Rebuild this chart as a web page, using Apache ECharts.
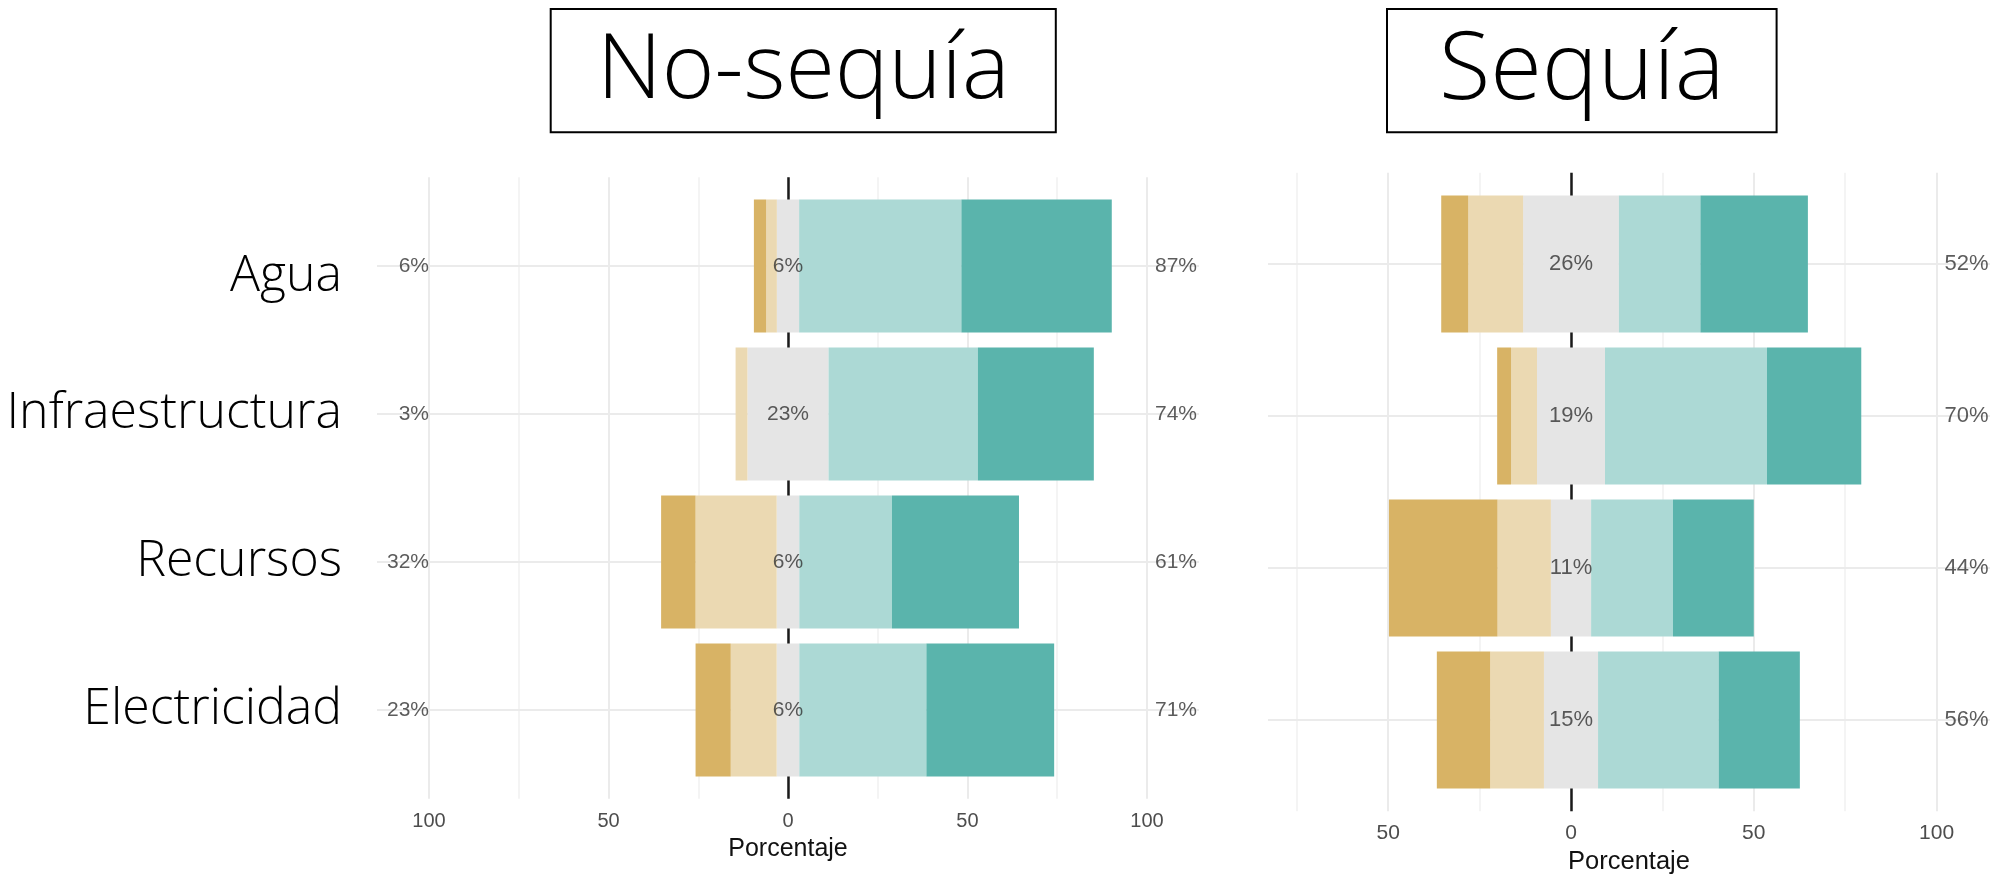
<!DOCTYPE html>
<html>
<head>
<meta charset="utf-8">
<script src="https://cdn.jsdelivr.net/npm/echarts@6/dist/echarts.min.js"></script>
<style>html,body{margin:0;padding:0;background:#fff}#c{width:1995px;height:876px}</style>
</head>
<body>
<div id="c"></div>
<script>
// ---------- DATA ----------
const categories = ['Agua', 'Infraestructura', 'Recursos', 'Electricidad'];

// No-sequía (percent per response level)
const nsMuyDesacuerdo = [3.4, 0.0, 9.6, 9.8];
const nsDesacuerdo    = [3.0, 3.3, 22.6, 12.8];
const nsNeutral       = [6.2, 22.6, 6.3, 6.3];
const nsAcuerdo       = [45.2, 41.6, 25.8, 35.4];
const nsMuyAcuerdo    = [41.9, 32.3, 35.4, 35.6];
const nsLowLabels     = ['6%', '3%', '32%', '23%'];
const nsNeutralLabels = ['6%', '23%', '6%', '6%'];
const nsHighLabels    = ['87%', '74%', '61%', '71%'];

// Sequía
const sMuyDesacuerdo = [7.4, 3.8, 29.7, 14.6];
const sDesacuerdo    = [15.0, 7.1, 14.6, 14.7];
const sNeutral       = [26.2, 18.6, 11.0, 14.8];
const sAcuerdo       = [22.3, 44.3, 22.4, 33.0];
const sMuyAcuerdo    = [29.4, 25.8, 22.1, 22.2];
const sNeutralLabels = ['26%', '19%', '11%', '15%'];
const sHighLabels    = ['52%', '70%', '44%', '56%'];

// axis ticks
const nsGridTicks  = [-100, -75, -50, -25, 0, 25, 50, 75, 100];
const nsTickLabels = [-100, -50, 0, 50, 100];
const sGridTicks   = [-75, -50, -25, 0, 25, 50, 75, 100];
const sTickLabels  = [-50, 0, 50, 100];

const panelTitles = ['No-sequía', 'Sequía'];
const axisTitle = 'Porcentaje';

// ---------- STYLE ----------
const COLORS = ['#D8B365', '#EBD9B2', '#E5E5E5', '#ACD9D5', '#5AB4AC'];
const SANS = 'Liberation Sans, Arial, sans-serif';
const GOTHIC = '"Open Sans", "DejaVu Sans", sans-serif';

function panel(p) {
  const bgGrid = p.gi, fgGrid = p.gi + 1;
  const grids = [
    { left: p.left, width: p.width, top: p.top - p.band * 0.1, height: p.band * 4.2, containLabel: false, outerBoundsMode: 'none' },
    { left: p.left, width: p.width, top: p.top, height: p.band * 4, containLabel: false, outerBoundsMode: 'none' }
  ];
  const xAxes = [
    {
      gridIndex: bgGrid, type: 'value', min: p.min, max: p.max,
      splitLine: { show: false }, axisLine: { show: false }, axisTick: { show: false },
      axisLabel: {
        customValues: p.tickLabels, formatter: v => String(Math.abs(Math.round(v))),
        fontSize: p.tickFont, color: '#4d4d4d', fontFamily: SANS, margin: p.labelMargin
      },
      name: axisTitle, nameLocation: 'middle', nameGap: p.nameGap,
      nameTextStyle: { fontSize: p.nameFont, color: '#111', fontFamily: SANS }
    },
    { gridIndex: fgGrid, type: 'value', min: p.min, max: p.max, show: false }
  ];
  const catStyle = { fontSize: 50, color: '#000', fontFamily: GOTHIC, fontWeight: 300 };
  const yAxes = [
    { gridIndex: bgGrid, type: 'value', min: 0.4, max: 4.6, inverse: true, show: false },
    {
      gridIndex: fgGrid, type: 'category', data: categories, inverse: true,
      axisLine: { show: false }, axisTick: { show: false }, splitLine: { show: false },
      axisLabel: Object.assign({
        show: p.showCats, margin: 35,
        formatter: (v, i) => i === 0 ? '{first|' + v + '}' : v,
        rich: { first: Object.assign({ padding: [22, 0, 0, 0] }, catStyle) }
      }, catStyle)
    }
  ];
  const major = { color: '#EBEBEB', width: 2, type: 'solid' };
  const minor = { color: '#F1F1F1', width: 1.5, type: 'solid' };
  const mlData = [];
  p.gridTicks.forEach(t => mlData.push({ xAxis: t, lineStyle: (t % 50 === 0) ? major : minor }));
  categories.forEach((c, i) => mlData.push({ yAxis: i + 1, lineStyle: major }));
  mlData.push({ xAxis: 0, lineStyle: { color: '#1a1a1a', width: 2.5, type: 'solid' } });

  const series = [{
    type: 'line', xAxisIndex: bgGrid, yAxisIndex: bgGrid, data: [], z: 1, silent: true,
    markLine: { z: 1, silent: true, animation: false, symbol: ['none', 'none'], label: { show: false }, data: mlData }
  }];

  const half = p.neutral.map(v => v / 2);
  const bar = (name, vals, color, sign) => ({
    name, type: 'bar', stack: 'likert' + p.gi, xAxisIndex: fgGrid, yAxisIndex: fgGrid,
    barCategoryGap: '10%', z: 3, silent: true, animation: false,
    itemStyle: { color }, data: vals.map(v => sign * v)
  });
  series.push(bar('Neutral-', half, COLORS[2], -1));
  series.push(bar('Neutral+', half, COLORS[2], 1));
  series.push(bar('En desacuerdo', p.d1, COLORS[1], -1));
  series.push(bar('De acuerdo', p.a1, COLORS[3], 1));
  series.push(bar('Muy en desacuerdo', p.d2, COLORS[0], -1));
  series.push(bar('Muy de acuerdo', p.a2, COLORS[4], 1));

  const lbl = (anchor, texts, pos, dist) => ({
    type: 'scatter', xAxisIndex: fgGrid, yAxisIndex: fgGrid, z: 6, silent: true, animation: false,
    symbolSize: 0.1, itemStyle: { color: 'rgba(0,0,0,0)' },
    label: { show: true, position: pos, distance: dist, fontSize: p.pctFont, color: '#333', fontFamily: SANS },
    data: categories.map((c, i) => ({ value: [anchor, c], label: { formatter: texts[i] } }))
  });
  if (p.lowLabels) series.push(lbl(-100, p.lowLabels, 'left', 0));
  series.push(lbl(0, p.neutralLabels, 'inside', 0));
  series.push(lbl(100, p.highLabels, 'right', 8));

  return { grids, xAxes, yAxes, series };
}

// panel extents (x axis value range), chosen so 0 falls on a whole pixel
const L = panel({
  gi: 0, left: 377, width: 822, min: -114.5, max: 114.5, top: 192, band: 148,
  gridTicks: nsGridTicks, tickLabels: nsTickLabels, showCats: true,
  tickFont: 20, nameFont: 25, pctFont: 21, labelMargin: 13, nameGap: 37,
  neutral: nsNeutral, d1: nsDesacuerdo, d2: nsMuyDesacuerdo, a1: nsAcuerdo, a2: nsMuyAcuerdo,
  lowLabels: nsLowLabels, neutralLabels: nsNeutralLabels, highLabels: nsHighLabels
});
const R = panel({
  gi: 2, left: 1268, width: 722, min: -82.8844, max: 114.6156, top: 188, band: 152,
  gridTicks: sGridTicks, tickLabels: sTickLabels, showCats: false,
  tickFont: 21, nameFont: 25.5, pctFont: 22, labelMargin: 12, nameGap: 37.5,
  neutral: sNeutral, d1: sDesacuerdo, d2: sMuyDesacuerdo, a1: sAcuerdo, a2: sMuyAcuerdo,
  lowLabels: null, neutralLabels: sNeutralLabels, highLabels: sHighLabels
});

const titleBox = (x, y, w, h, text, size) => ({
  type: 'group', children: [
    { type: 'rect', shape: { x, y, width: w, height: h }, style: { fill: '#fff', stroke: '#000', lineWidth: 2 } },
    { type: 'text', x: x + w / 2, y: y + h / 2 + 2, style: {
      text, fontSize: size, fontFamily: GOTHIC, fontWeight: 300, fill: '#000', align: 'center', verticalAlign: 'middle' } }
  ]
});

const chart = echarts.init(document.getElementById('c'), null, { renderer: 'canvas' });
chart.setOption({
  animation: false,
  backgroundColor: '#fff',
  grid: [...L.grids, ...R.grids],
  xAxis: [...L.xAxes, ...R.xAxes],
  yAxis: [...L.yAxes, ...R.yAxes],
  series: [...L.series, ...R.series],
  graphic: [
    titleBox(550.7, 9, 505.1, 123.3, panelTitles[0], 90),
    titleBox(1387, 9, 389.6, 123.3, panelTitles[1], 94)
  ]
});
</script>
</body>
</html>
